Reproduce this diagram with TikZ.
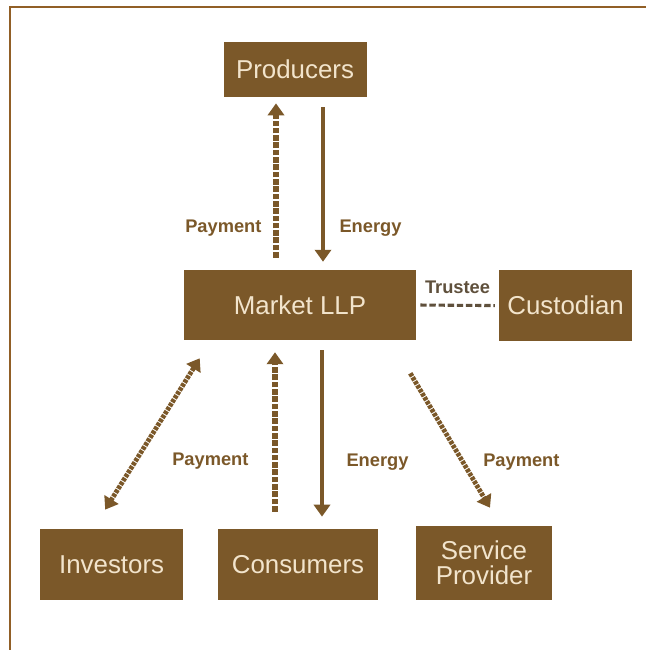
\documentclass[tikz,border=0pt]{standalone}
\usepackage{fontspec}
\setmainfont{Liberation Sans}
\usetikzlibrary{arrows.meta,positioning,calc}

\definecolor{llpbrown}{RGB}{123,88,41}
\definecolor{llpcream}{RGB}{242,228,204}
\definecolor{llpframe}{RGB}{145,95,38}
\definecolor{llpgrey}{RGB}{95,80,60}

\begin{document}
\begin{tikzpicture}[
    box/.style={fill=llpbrown, text=llpcream, inner sep=0pt, align=center, font=\fontsize{18.4}{19}\selectfont},
    lbl/.style={text=llpbrown, inner sep=0pt, font=\fontsize{13}{14}\selectfont\bfseries},
    arrtip/.style={-{Triangle[length=8.5pt,width=11.5pt]}},
    energy/.style={arrtip, draw=llpbrown, line width=2.2pt},
    pay/.style={arrtip, draw=llpbrown, line width=3.6pt, dash pattern=on 4pt off 1.2pt},
    diag/.style={draw=llpbrown, line width=3.4pt, dash pattern=on 2.5pt off 0.8pt},
    trust/.style={draw=llpgrey, line width=2.2pt, dash pattern=on 4.5pt off 2pt}
]
\useasboundingbox (0,0) rectangle (16.15,-16.25);
% frame, only left and top edges show
\draw[llpframe, line width=1.4pt] (0.25,-16.3) |- (16.2,-0.175);

\node[box, minimum width=3.575cm, minimum height=1.375cm] (prod) at (7.375,-1.74) {Producers};
\node[box, minimum width=5.8cm, minimum height=1.75cm] (market) at (7.5,-7.625) {Market LLP};
\node[box, minimum width=3.325cm, minimum height=1.775cm] (cust) at (14.14,-7.64) {Custodian};
\node[box, minimum width=3.575cm, minimum height=1.775cm] (inv) at (2.79,-14.11) {Investors};
\node[box, minimum width=4cm, minimum height=1.775cm] (cons) at (7.45,-14.11) {Consumers};
\node[box, minimum width=3.4cm, minimum height=1.85cm] (serv) at (12.1,-14.075) {Service\\[-1pt]Provider};

% producers <-> market
\draw[pay, shorten <=0.3cm, shorten >=0.15cm] ([xshift=-6mm]market.north) -- ([xshift=-6mm]market.north |- prod.south)
    node[lbl, pos=0.24, left=0.3cm] (payprod) {Payment};
\draw[energy, shorten <=0.25cm, shorten >=0.2cm] ([xshift=5.75mm]market.north |- prod.south) -- ([xshift=5.75mm]market.north)
    node[lbl, pos=0.757, right=0.375cm] (enprod) {Energy};

% market -- custodian
\draw[trust, shorten <=0.1cm, shorten >=0.1cm] (market.east) -- (cust.west)
    node[lbl, text=llpgrey, midway, above=0.25cm] (trustee) {Trustee};

% consumers <-> market
\draw[pay, shorten <=0.425cm, shorten >=0.3cm] ([xshift=-6.25mm]market.south |- cons.north) -- ([xshift=-6.25mm]market.south)
    node[lbl, pos=0.36, left=0.6cm] (paycons) {Payment};
\draw[energy, shorten <=0.25cm, shorten >=0.3cm] ([xshift=5.5mm]market.south) -- ([xshift=5.5mm]market.south |- cons.north)
    node[lbl, pos=0.645, right=0.575cm] (encons) {Energy};

% investors and service provider
\draw[diag, {Triangle[length=8.5pt,width=11.5pt]}-{Triangle[length=8.5pt,width=11.5pt]}]
    ($(market.south west)+(0.4,-0.45)$) -- ($(inv.north)+(-0.16,0.475)$);
\draw[diag, arrtip] ($(market.south east)+(-0.15,-0.825)$) -- ($(serv.north)+(0.15,0.45)$)
    node[lbl, pos=0.66, right=0.45cm] (payserv) {Payment};
\end{tikzpicture}
\end{document}
